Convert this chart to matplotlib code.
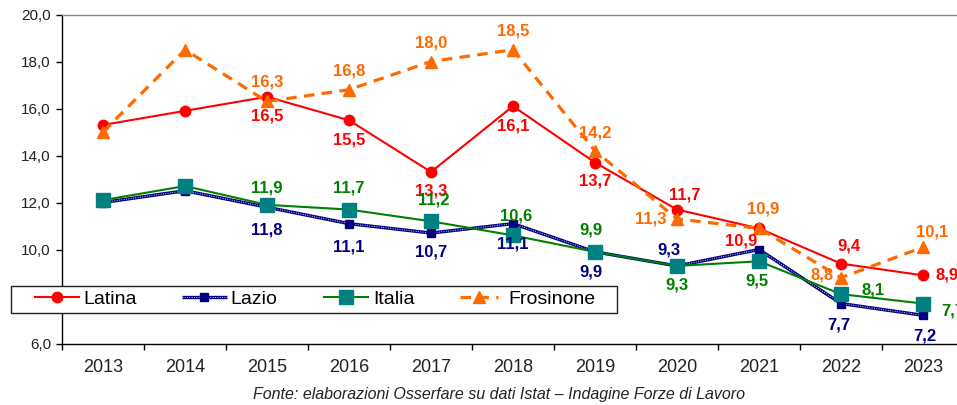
import matplotlib
matplotlib.use("Agg")
import matplotlib.pyplot as plt
from matplotlib.legend_handler import HandlerTuple
from matplotlib.patches import Rectangle

plt.rcParams['font.family'] = ['Liberation Sans', 'DejaVu Sans']

years = ["2013", "2014", "2015", "2016", "2017", "2018", "2019", "2020", "2021", "2022", "2023"]
latina = [15.3, 15.9, 16.5, 15.5, 13.3, 16.1, 13.7, 11.7, 10.9, 9.4, 8.9]
lazio = [12.0, 12.5, 11.8, 11.1, 10.7, 11.1, 9.9, 9.3, 10.0, 7.7, 7.2]
italia = [12.1, 12.7, 11.9, 11.7, 11.2, 10.6, 9.9, 9.3, 9.5, 8.1, 7.7]
frosinone = [15.0, 18.5, 16.3, 16.8, 18.0, 18.5, 14.2, 11.3, 10.9, 8.8, 10.1]
series_names = ["Latina", "Lazio", "Italia", "Frosinone"]
yticks = [6, 8, 10, 12, 14, 16, 18, 20]
caption = "Fonte: elaborazioni Osserfare su dati Istat \u2013 Indagine Forze di Lavoro"

# label offsets in pixels (dx, dy), dy positive = up
lab_latina = {2: (0, -19), 3: (0, -20), 4: (0, -19), 5: (0, -20), 6: (0, -18.5),
              7: (8, 14.5), 8: (-18, -13), 9: (8, 17.5), 10: (24, 0)}
lab_fros = {2: (0, 19.5), 3: (0, 19), 4: (0, 18.5), 5: (0, 19), 6: (0, 18),
            7: (-26, 0), 8: (4, 19), 9: (-19, 3), 10: (9, 15)}
lab_italia = {2: (0, 17), 3: (0, 22), 4: (3, 21), 5: (3, 19), 6: (-4, 22),
              7: (0, -19), 8: (-2, -20), 9: (32, 4), 10: (30, -7)}
lab_lazio = {2: (0, -23), 3: (0, -23), 4: (0, -19), 5: (0, -20), 6: (-4, -20),
             7: (-8, 16), 9: (-2, -21), 10: (2, -21)}

RED = "#FF0000"
ORANGE = "#FF6A00"
NAVY = "#000080"
GREEN = "#008000"
TEAL = "#008080"

W, H = 957, 405
fig = plt.figure(figsize=(W / 100, H / 100), dpi=100)
left, right, top, bottom = 62, 964, 14.5, 343.5
ax = fig.add_axes([left / W, (H - bottom) / H, (right - left) / W, (bottom - top) / H])

x = list(range(len(years)))

# Lazio: navy line with white dotted core
l_lazio, = ax.plot(x, lazio, color=NAVY, lw=2.4, zorder=3, solid_capstyle='butt')
l_lazio2, = ax.plot(x, lazio, color="white", lw=0.7, ls=(0, (0.8, 1.6)), zorder=3.1)
m_lazio, = ax.plot(x, lazio, ls='none', marker='s', ms=6, color=NAVY, zorder=3.2)

l_italia, = ax.plot(x, italia, color=GREEN, lw=1.5, marker='s', ms=9.5,
                    mfc=TEAL, mec=TEAL, zorder=4)
l_latina, = ax.plot(x, latina, color=RED, lw=1.5, marker='o', ms=7.5,
                    mfc=RED, mec=RED, zorder=5)
l_fros, = ax.plot(x, frosinone, color=ORANGE, lw=2.3, ls=(0, (3.3, 2.3)),
                  marker='^', ms=8, mfc=ORANGE, mec=ORANGE, zorder=6)

def fmt(v):
    return f"{v:.1f}".replace('.', ',')

for vals, labs, col in [(latina, lab_latina, RED), (frosinone, lab_fros, ORANGE),
                        (italia, lab_italia, GREEN), (lazio, lab_lazio, NAVY)]:
    for i, (dx, dy) in labs.items():
        ax.annotate(fmt(vals[i]), (x[i], vals[i]), xytext=(dx, dy),
                    textcoords='offset pixels', ha='center', va='center',
                    fontsize=12, fontweight='bold', color=col, zorder=10,
                    annotation_clip=False)

ax.set_xlim(-0.5, len(years) - 0.5)
ax.set_ylim(6, 20)
ax.set_yticks(yticks)
ax.set_yticklabels([fmt(v) for v in yticks], fontsize=11, color="#222222")
ax.set_xticks(x)
ax.set_xticklabels(years, fontsize=13, color="#222222")
ax.set_xticks([i - 0.5 for i in range(len(years) + 1)], minor=True)
ax.tick_params(axis='x', which='major', length=0, pad=11)
ax.tick_params(axis='x', which='minor', length=4.5, width=1, direction='out')
ax.tick_params(axis='y', length=4, width=1, direction='out', pad=4)

for s in ['left', 'bottom']:
    ax.spines[s].set_color('black')
    ax.spines[s].set_linewidth(1)
ax.spines['top'].set_color('#888888')
ax.spines['top'].set_linewidth(1)
ax.spines['right'].set_visible(False)

# legend: white framed box with four entries
bx0, bx1, by0, by1 = 10.7, 617, 285.7, 312.7
fig.patches.append(Rectangle((bx0 / W, 1 - by1 / H), (bx1 - bx0) / W, (by1 - by0) / H,
                             transform=fig.transFigure, facecolor='white',
                             edgecolor='#222222', lw=1, zorder=19))
handles = [l_latina, (l_lazio, l_lazio2, m_lazio), l_italia, l_fros]
entry_x = [35, 182, 324, 460]
entry_hl = [2.26, 2.31, 2.26, 1.95]
entry_pad = [0.25, 0.2, 0.25, 0.55]
ycen = (by0 + by1) / 2
for h, name, ex, hl, tp in zip(handles, series_names, entry_x, entry_hl, entry_pad):
    lg = fig.legend([h], [name], loc='center left',
                    bbox_to_anchor=(ex / W, 1 - ycen / H), bbox_transform=fig.transFigure,
                    frameon=False, borderpad=0, borderaxespad=0, fontsize=14,
                    handlelength=hl, handletextpad=tp, numpoints=1,
                    handler_map={tuple: HandlerTuple(ndivide=1, pad=0)})
    lg.set_zorder(20)

fig.text(499 / W, 1 - 395 / H, caption, ha='center', va='center',
         fontsize=11.5, style='italic', color='#222222')

fig.savefig("out.png", dpi=100)
